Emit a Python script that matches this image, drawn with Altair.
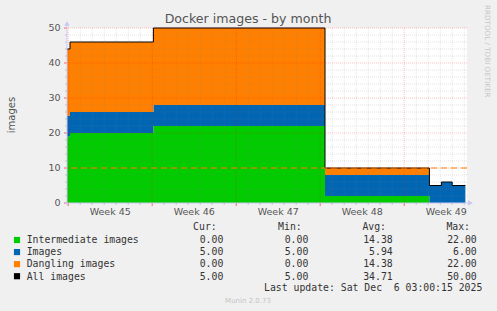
import altair as alt
import pandas as pd

# ---------------- data ----------------
# time breakpoints, in days from the left edge of the 33-day window
t_days = [0.0, 0.25, 7.2, 21.5, 30.2, 31.2, 32.1, 33.2]
intermediate = [19, 20, 22, 2, 0, 0, 0, 0]
images = [6, 6, 6, 6, 5, 6, 5, 5]
dangling = [19, 20, 22, 2, 0, 0, 0, 0]
all_images = [44, 46, 50, 10, 5, 6, 5, 5]
warning_level = [10]

series_names = ["Intermediate images", "Images", "Dangling images", "All images"]
series_colors = ["#00CC00", "#0066B3", "#FF8000", "#000000"]
cur_vals = ["0.00", "5.00", "0.00", "5.00"]
min_vals = ["0.00", "5.00", "0.00", "5.00"]
avg_vals = ["14.38", "5.94", "14.38", "34.71"]
max_vals = ["22.00", "6.00", "22.00", "50.00"]
stat_headers = ["Cur:", "Min:", "Avg:", "Max:"]

week_labels = ["Week 45", "Week 46", "Week 47", "Week 48", "Week 49"]
week_starts = [0.1, 7.1, 14.1, 21.1, 28.1]
y_tick_values = [0, 10, 20, 30, 40, 50]

title_text = "Docker images - by month"
y_title = "images"
last_update = "Last update: Sat Dec  6 03:00:15 2025"
footer = "Munin 2.0.73"
watermark = "RRDTOOL / TOBI OETIKER"

# ---------------- scales ----------------
W, H = 400, 175
xs = alt.Scale(domain=[0, W / 12], nice=False, zero=False)
ys = alt.Scale(domain=[0, 50], nice=False, zero=False)

LABEL_FONT = "DejaVu Sans"
MONO = "DejaVu Sans Mono"
AXIS_COL = "#C8C8F4"

# stacked areas
rows = []
stack_series = [intermediate, images, dangling]
for j, t in enumerate(t_days):
    lo = 0
    for name, vals in zip(series_names[:3], stack_series):
        rows.append({"t": t, "lo": lo, "hi": lo + vals[j], "series": name})
        lo += vals[j]
area_df = pd.DataFrame(rows)

areas = alt.Chart(area_df).mark_area(interpolate="step-after", opacity=1).encode(
    x=alt.X("t:Q", scale=xs, axis=None),
    y=alt.Y("hi:Q", scale=ys, axis=None),
    y2="lo:Q",
    color=alt.Color("series:N", scale=alt.Scale(domain=series_names[:3], range=series_colors[:3]),
                    legend=None),
)

line_df = pd.DataFrame({"t": t_days, "v": all_images})
total_line = alt.Chart(line_df).mark_line(interpolate="step-after", color="#000000",
                                          strokeWidth=1).encode(
    x=alt.X("t:Q", scale=xs, axis=None), y=alt.Y("v:Q", scale=ys, axis=None))

# grid
minor_days = pd.DataFrame({"x": [week_starts[0] + k for k in range(34)
                                 if (k % 7) != 0 and week_starts[0] + k < W / 12]})
major_days = pd.DataFrame({"x": week_starts})
minor_y = pd.DataFrame({"y": [v for v in range(2, 50, 2) if v % 10 != 0]})
major_y = pd.DataFrame({"y": y_tick_values[1:]})


def vrule(df, color, op):
    return alt.Chart(df).mark_rule(color=color, opacity=op, strokeDash=[1, 1], strokeWidth=1).encode(
        x=alt.X("x:Q", scale=xs, axis=None))


def hrule(df, color, op):
    return alt.Chart(df).mark_rule(color=color, opacity=op, strokeDash=[1, 1], strokeWidth=1).encode(
        y=alt.Y("y:Q", scale=ys, axis=None))


grid_minor_v = vrule(minor_days, "#808080", 0.22)
grid_minor_h = hrule(minor_y, "#808080", 0.22)
grid_major_v = vrule(major_days, "#FF0000", 0.25)
grid_major_h = hrule(major_y, "#FF0000", 0.25)

warn = alt.Chart(pd.DataFrame({"y": warning_level})).mark_rule(
    color="#FF8000", strokeDash=[6, 4], strokeWidth=1).encode(y=alt.Y("y:Q", scale=ys, axis=None))

# ticks
x_major_ticks = alt.Chart(major_days).mark_rule(color="#FF6060", strokeWidth=1).encode(
    x=alt.X("x:Q", scale=xs, axis=None), y=alt.value(H), y2=alt.value(H + 3))
x_minor_ticks = alt.Chart(minor_days).mark_rule(color="#C0C0C0", strokeWidth=1).encode(
    x=alt.X("x:Q", scale=xs, axis=None), y=alt.value(H), y2=alt.value(H + 2))
y_major_ticks = alt.Chart(pd.DataFrame({"y": y_tick_values})).mark_rule(
    color="#FF6060", strokeWidth=1).encode(y=alt.Y("y:Q", scale=ys, axis=None),
                                           x=alt.value(-3), x2=alt.value(0))
y_minor_ticks = alt.Chart(minor_y).mark_rule(color="#C0C0C0", strokeWidth=1).encode(
    y=alt.Y("y:Q", scale=ys, axis=None), x=alt.value(-2), x2=alt.value(0))

# y tick labels
y_lab_df = pd.DataFrame({"y": y_tick_values, "lab": [str(v) for v in y_tick_values]})
y_labels = alt.Chart(y_lab_df).mark_text(font=LABEL_FONT, fontSize=9.5, color="#555555",
                                         align="right", baseline="middle").encode(
    y=alt.Y("y:Q", scale=ys, axis=None), x=alt.value(-6.5), text="lab:N")

# axis lines with arrows
one = pd.DataFrame({"a": [0]})
y_axis_line = alt.Chart(one).mark_rule(color=AXIS_COL, strokeWidth=1).encode(
    x=alt.value(0), y=alt.value(-3), y2=alt.value(H + 2))
x_axis_line = alt.Chart(one).mark_rule(color=AXIS_COL, strokeWidth=1).encode(
    x=alt.value(-2), x2=alt.value(401), y=alt.value(H))
y_arrow = alt.Chart(one).mark_point(shape="triangle-up", filled=True, size=30, color=AXIS_COL,
                                    opacity=1).encode(x=alt.value(0), y=alt.value(-4.5))
x_arrow = alt.Chart(one).mark_point(shape="triangle-right", filled=True, size=30, color=AXIS_COL,
                                    opacity=1).encode(x=alt.value(403.5), y=alt.value(H))

# week labels
week_df = pd.DataFrame({"label": week_labels, "pos": [s + 3.5 for s in week_starts]})
week_text = alt.Chart(week_df).mark_text(font=LABEL_FONT, fontSize=9.5, color="#555555",
                                         align="center", baseline="alphabetic").encode(
    x=alt.X("pos:Q", scale=xs, axis=None), y=alt.value(187), text="label:N")


def txt(s, x, y, size=9.8, font=MONO, color="#333333", align="left", **kw):
    s = s.replace("  ", " \u00a0")  # keep double spaces visible in SVG
    return alt.Chart(one).mark_text(text=s, font=font, fontSize=size, color=color, align=align,
                                    baseline=kw.pop("baseline", "alphabetic"), **kw).encode(
        x=alt.value(x), y=alt.value(y))


texts = [
    txt(title_text, 181, -5.3, size=12.6, font=LABEL_FONT, color="#555555", align="center"),
    txt(y_title, -55.5, 87, size=10, font=LABEL_FONT, color="#555555", align="center",
        baseline="middle", angle=270),
    txt(watermark, 420, -23, size=7.2, font=LABEL_FONT, color="#C8C8C8", align="left",
        baseline="middle", angle=90),
    txt(last_update, 415.3, 263, align="right"),
    txt(footer, 181, 274.7, size=7, font=LABEL_FONT, color="#C4C4C4", align="center"),
]

header_right = [149.7, 234.7, 319, 403]
value_right = [156.3, 241.3, 325.7, 409.7]
for h, xr in zip(stat_headers, header_right):
    texts.append(txt(h, xr, 202.3, align="right"))

legend_layers = []
for i in range(4):
    yb = 215.3 + 12.07 * i
    legend_layers.append(
        alt.Chart(one).mark_square(size=38, color=series_colors[i], opacity=1).encode(
            x=alt.value(-50), y=alt.value(yb - 3.3)))
    legend_layers.append(txt(series_names[i], -40.3, yb))
    for vals, xr in zip([cur_vals, min_vals, avg_vals, max_vals], value_right):
        legend_layers.append(txt(vals[i], xr, yb, align="right"))

chart = alt.layer(
    areas, total_line,
    grid_minor_v, grid_minor_h, grid_major_v, grid_major_h,
    warn,
    x_minor_ticks, x_major_ticks, y_minor_ticks, y_major_ticks,
    y_axis_line, x_axis_line, y_arrow, x_arrow,
    y_labels, week_text, *texts, *legend_layers,
).properties(
    width=W, height=H,
    autosize=alt.AutoSizeParams(type="none"),
    padding={"left": 67, "top": 28, "right": 30, "bottom": 108},
    background="#F0F0F0",
).configure_view(fill="white", stroke=None)

chart.save("out.html", embed_options={"renderer": "svg", "actions": False})
